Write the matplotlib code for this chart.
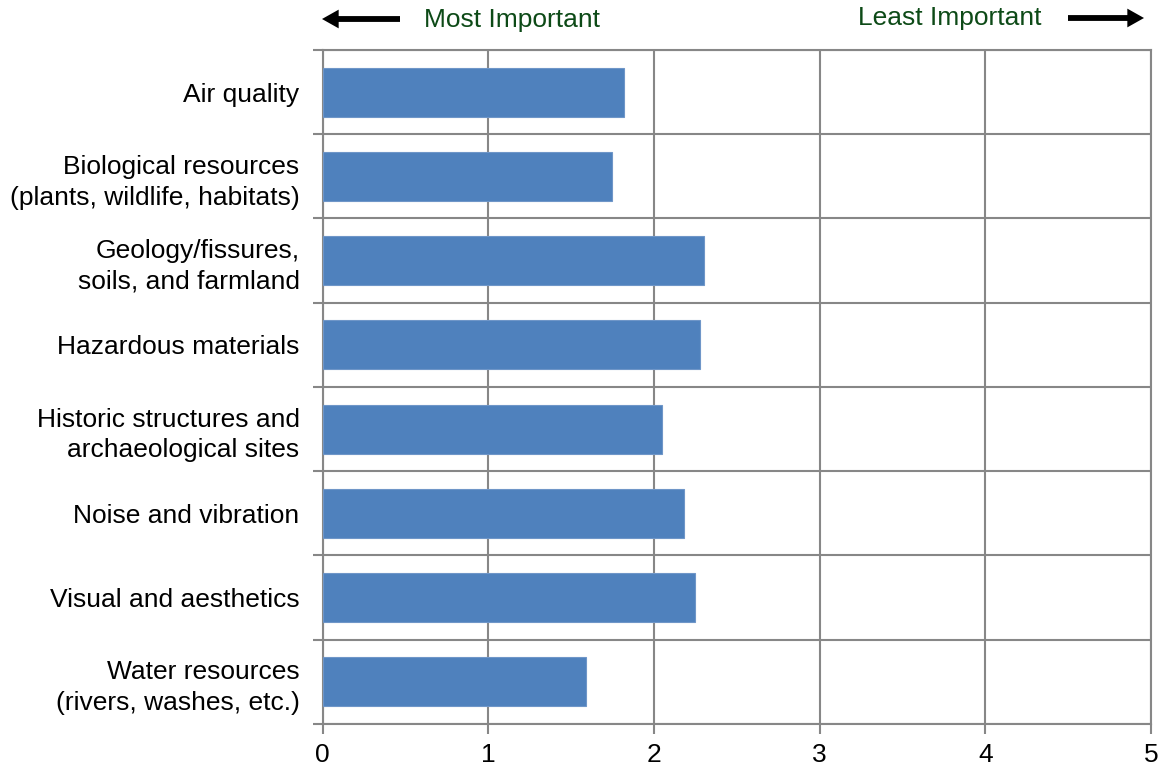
import numpy as np
import matplotlib.pyplot as plt
from matplotlib.patches import FancyArrowPatch
from matplotlib.ticker import FixedLocator

plt.rcParams['font.family'] = ['Liberation Sans', 'DejaVu Sans']

categories = [
    'Air quality',
    'Biological resources\n(plants, wildlife, habitats)',
    'Geology/fissures,\nsoils, and farmland',
    'Hazardous materials',
    'Historic structures and\narchaeological sites',
    'Noise and vibration',
    'Visual and aesthetics',
    'Water resources\n(rivers, washes, etc.)',
]
mean_rank = [1.82, 1.75, 2.30, 2.28, 2.05, 2.18, 2.25, 1.59]
x_ticks = [0, 1, 2, 3, 4, 5]

bar_color = '#4f81bd'
grid_color = '#878787'
note_color = '#0d4a17'
fs = 19

fig = plt.figure(figsize=(11.58, 7.68), dpi=100)
ax = fig.add_axes([0.2785, 0.0573, 0.7155, 0.8776])

y = np.arange(len(categories))
ax.barh(y, mean_rank, height=0.58, color=bar_color, edgecolor='#6f96c8',
        linewidth=0.8, zorder=3)

ax.set_xlim(0, 5)
ax.set_ylim(len(categories) - 0.5, -0.5)
ax.set_xticks(x_ticks)
ax.set_xticklabels([str(t) for t in x_ticks])
ax.set_yticks(y)
ax.set_yticklabels(categories, ha='right', multialignment='right',
                   linespacing=1.35)
ax.yaxis.set_minor_locator(FixedLocator(np.arange(-0.5, len(categories), 1)))

ax.tick_params(axis='y', which='major', length=0, pad=16.5, labelsize=fs)
ax.tick_params(axis='y', which='minor', length=7, width=1.5, color=grid_color)
ax.tick_params(axis='x', which='major', length=7, width=1.5, color=grid_color,
               labelsize=fs, pad=7)

ax.grid(axis='x', which='major', color=grid_color, linewidth=1.5, zorder=0)
ax.grid(axis='y', which='minor', color=grid_color, linewidth=1.5, zorder=0)
ax.set_axisbelow(True)
for side in ax.spines.values():
    side.set_color(grid_color)
    side.set_linewidth(1.5)

# direction hints above the plot
fig.text(424 / 1158, 1 - 20 / 768, 'Most Important', color=note_color,
         fontsize=fs, ha='left', va='center')
fig.text(1041 / 1158, 1 - 18 / 768, 'Least Important', color=note_color,
         fontsize=fs, ha='right', va='center')
arrow_style = 'simple,head_length=1.2,head_width=1.35,tail_width=0.42'
for start, end, yy in [(400, 322, 19), (1068, 1144, 18)]:
    fig.add_artist(FancyArrowPatch(
        (start / 1158, 1 - yy / 768), (end / 1158, 1 - yy / 768),
        transform=fig.transFigure, arrowstyle=arrow_style,
        mutation_scale=10, color='black', lw=0, shrinkA=0, shrinkB=0))

fig.savefig('out.png', dpi=100)
